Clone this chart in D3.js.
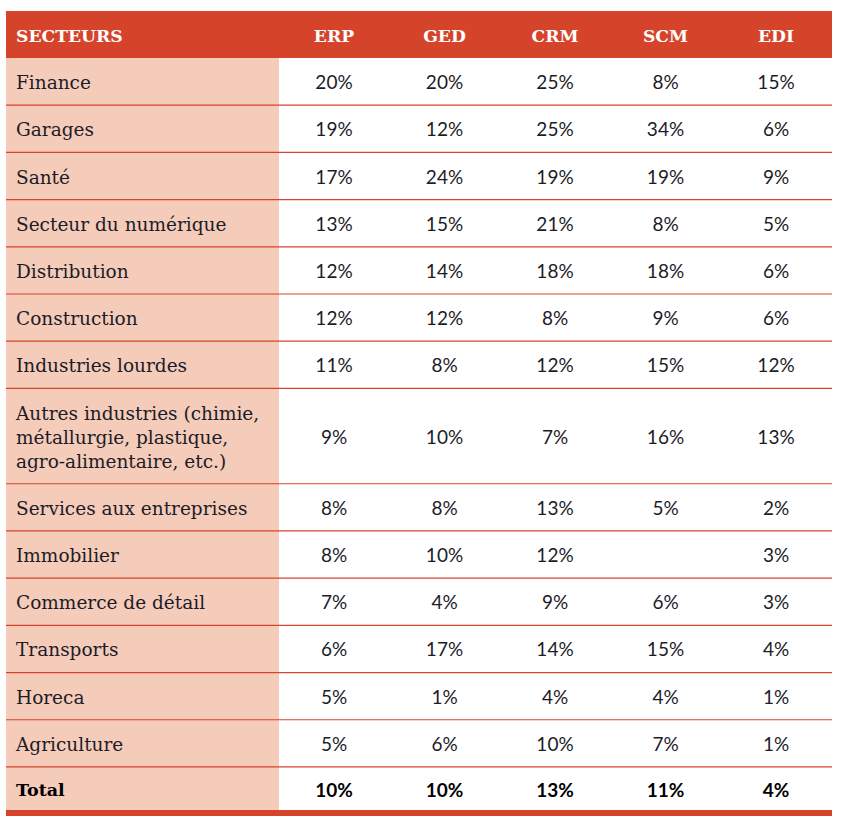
<!DOCTYPE html>
<html><head><meta charset="utf-8">
<script src="https://cdn.jsdelivr.net/npm/d3@7"></script>
<style>html,body{margin:0;padding:0;background:#fff}</style>
</head><body>
<svg id="c" width="846" height="820"></svg>
<script>
const columns = ["ERP", "GED", "CRM", "SCM", "EDI"];
const sectors = [
  ["Finance"],
  ["Garages"],
  ["Santé"],
  ["Secteur du numérique"],
  ["Distribution"],
  ["Construction"],
  ["Industries lourdes"],
  ["Autres industries (chimie,", "métallurgie, plastique,", "agro-alimentaire, etc.)"],
  ["Services aux entreprises"],
  ["Immobilier"],
  ["Commerce de détail"],
  ["Transports"],
  ["Horeca"],
  ["Agriculture"]
];
const erp = [20, 19, 17, 13, 12, 12, 11, 9, 8, 8, 7, 6, 5, 5];
const ged = [20, 12, 24, 15, 14, 12, 8, 10, 8, 10, 4, 17, 1, 6];
const crm = [25, 25, 19, 21, 18, 8, 12, 7, 13, 12, 9, 14, 4, 10];
const scm = [8, 34, 19, 8, 18, 9, 15, 16, 5, null, 6, 15, 4, 7];
const edi = [15, 6, 9, 5, 6, 6, 12, 13, 2, 3, 3, 4, 1, 1];
const totalLabel = "Total";
const totals = [10, 10, 13, 11, 4];
const headerLabel = "SECTEURS";

(function(){
const series = [erp, ged, crm, scm, edi];
const RED = "#d6432b", PINK = "#f5cbb9", INK = "#1c1c28";
const L = 6, R = 832, PINKW = 279;
const LABEL_FONT = "'DejaVu Serif', serif";
const svg = d3.select("#c");

const rowUnits = sectors.map(s => s.length === 3 ? 2.02 : 1);
const unit = 47.2;
const y0top = 58;
const ys = [y0top];
rowUnits.forEach(u => ys.push(ys[ys.length-1] + u*unit));
const totalTop = ys[ys.length-1], totalBot = 810;

const x = d3.scalePoint().domain(columns).range([334, 776]);

svg.append("rect").attr("x", L).attr("y", 11).attr("width", R-L).attr("height", y0top-11).attr("fill", RED);
svg.append("text").attr("x", 16).attr("y", 42).text(headerLabel)
  .attr("font-family", "DejaVu Serif").attr("font-weight", "bold").attr("font-size", 17.2).attr("fill", "#fff");
svg.selectAll("text.h").data(columns).join("text").attr("class","h")
  .attr("x", d => x(d)).attr("y", 42).attr("text-anchor","middle").text(d => d)
  .attr("font-family", "DejaVu Serif").attr("font-weight", "bold").attr("font-size", 17.2).attr("fill", "#fff");

svg.append("rect").attr("x", L).attr("y", y0top).attr("width", PINKW-L).attr("height", totalBot-y0top).attr("fill", PINK);

sectors.forEach((lines, i) => {
  const a = ys[i], b = ys[i+1], cy = (a+b)/2;
  const lh = 24;
  const t = svg.append("text").attr("font-family",LABEL_FONT).attr("font-size",18.5).attr("fill",INK);
  lines.forEach((ln, j) => {
    t.append("tspan").attr("x",16).attr("y", cy + 7.5 + (j-(lines.length-1)/2)*lh).text(ln);
  });
  series.forEach((s, k) => {
    if (s[i] == null) return;
    svg.append("text").attr("x", x(columns[k])).attr("y", cy+7.5).attr("text-anchor","middle")
      .attr("font-family","Lato").attr("font-size",19).attr("fill",INK).text(s[i] + "%");
  });
  svg.append("line").attr("x1",L).attr("x2",R).attr("y1",b).attr("y2",b).attr("stroke",RED).attr("stroke-width",1.2);
});

const tcy = (totalTop+totalBot)/2;
svg.append("text").attr("x",16).attr("y",tcy+8).text(totalLabel)
  .attr("font-family","DejaVu Serif").attr("font-weight","bold").attr("font-size",17.5).attr("fill","#000");
totals.forEach((v,k) => {
  svg.append("text").attr("x", x(columns[k])).attr("y", tcy+8.5).attr("text-anchor","middle")
    .attr("font-family","Lato").attr("font-weight","bold").attr("font-size",19).attr("fill","#000").text(v + "%");
});
svg.append("rect").attr("x",L).attr("y",totalBot).attr("width",R-L).attr("height",6).attr("fill",RED);
})();
</script>
</body></html>
